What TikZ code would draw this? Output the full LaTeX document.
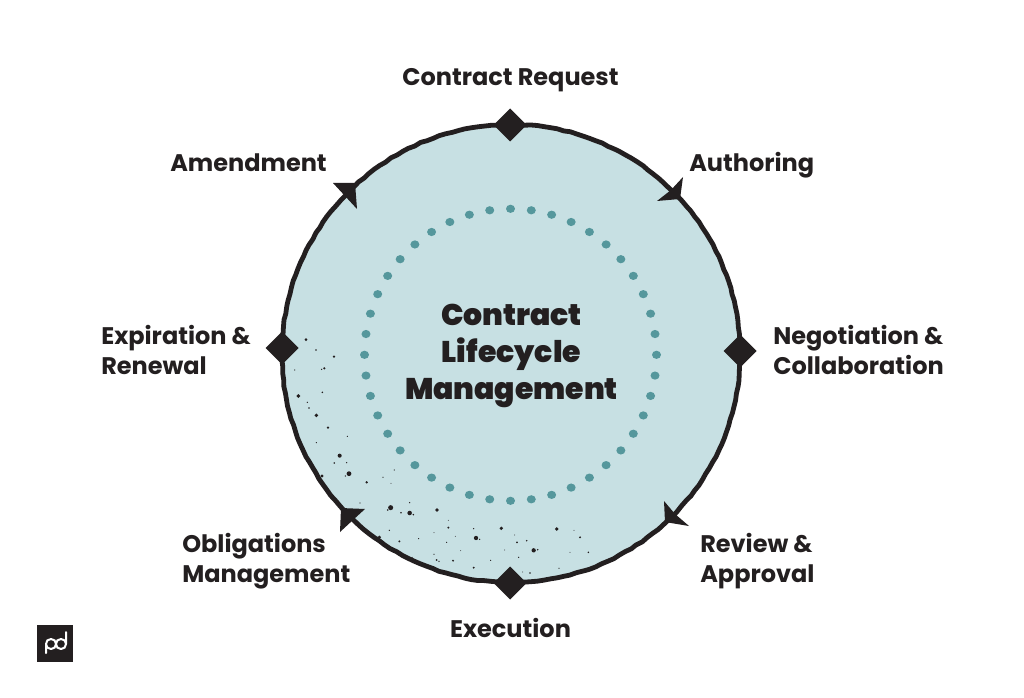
\documentclass[tikz,border=0pt]{standalone}
\usepackage{fontspec}
\usetikzlibrary{decorations.pathmorphing}
\setmainfont{Poppins}[BoldFont={Poppins Bold}]
\newfontfamily\heavyfont{Poppins Black}
\definecolor{disc}{HTML}{C7E0E3}
\definecolor{ink}{HTML}{231F20}
\definecolor{teal}{HTML}{55979C}
\tikzset{
  lab/.style={font=\bfseries\fontsize{18pt}{22.5pt}\selectfont,text=ink,inner sep=0pt,align=left},
  titlelab/.style={font=\heavyfont\fontsize{22.4pt}{27.75pt}\selectfont,text=ink,inner sep=0pt,align=center},
  mark diamond/.style={fill=ink},
  barb/.style={fill=ink,line join=round},
}
\pgfmathsetseed{7}
\begin{document}
\begin{tikzpicture}[x=0.75pt,y=-0.75pt]
\useasboundingbox (0,0) rectangle (1024,698);
\fill[white] (0,0) rectangle (1024,698);
% disc
\draw[fill=disc,draw=ink,line width=3.6pt,line join=round,decorate,decoration={random steps,segment length=5,amplitude=.35}] (511,353.5) circle[radius=229];
% inner dotted ring
\foreach \i in {0,...,43}{
  \fill[teal] ({510.5+146*cos(\i*360/44)},{354.8+146*sin(\i*360/44)}) circle[x radius=4.5,y radius=4.1];
}
% speckles (crop coords of lower-left area)
\foreach \x/\y/\r in {
108/59/1.2,138/90/.7,192/110/1.1,163/145/1,155/148/.6,74/150/.5,157/217/.7,85/228/1.6,112/247/.6,117/264/.8,139/286/1.6,174/323/1.1,232/349/.5,139/368/.5,
209/407/1.7,193/429/.7,230/428/.6,237/461/2,226/468/.6,290/487/1.1,156/468/1.3,373/450/.5,339/472/.5,363/490/.4,362/563/2.1,353/570/.7,393/578/.7,419/579/1.9,430/584/.7,419/548/.6,501/570/1.6,270/549/.5,
535/623/.9,611/626/.6,694/625/1.5,618/654/1.8,629/658/.6,535/601/.4,492/638/.4,556/649/.4,741/667/.8,770/662/.7,734/645/.4,860/627/1.6,912/631/.4,930/652/.9,791/691/1.8,803/689/.7,955/697/.7,900/697/.4,
328/652/1.5,358/631/.6,388/664/.9,446/656/.5,530/667/.5,572/692/.4,492/703/.5,500/720/.8,507/724/.6,549/722/.9,746/712/.6,704/690/.4,662/721/.5,611/743/.9,758/756/.4,780/759/.8,867/745/.5,427/712/.4}{
  \fill[ink] ({270+\x/3},{320+\y/3}) circle[radius=1.2*\r];
}
% diamonds
\coordinate (dn) at (510,125);
\coordinate (de) at (740,351);
\coordinate (ds) at (510,583);
\coordinate (dw) at (282,348);
\foreach \c in {dn,de,ds,dw}{
  \fill[mark diamond] (\c) ++(-16.5,0) -- ++(16.5,-16.5) -- ++(16.5,16.5) -- ++(-16.5,16.5) -- cycle;
}
% arrowheads
\fill[barb] (683,177) -- (680,199) -- (657,201) -- (671,190) -- cycle;
\fill[barb] (664,501) -- (665,522) -- (689,526) -- (675,514) -- cycle;
\fill[barb] (365,509) -- (341,508) -- (340,532) -- (353,520) -- cycle;
\fill[barb] (333,183) -- (355,183) -- (357,209) -- (345,196) -- cycle;
% labels
\node[lab,anchor=center] (request) at (510.5,80) {Contract Request};
\node[lab,anchor=west] (authoring) at (689,165) {Authoring};
\node[lab,anchor=east] (amendment) at (327,162.5) {Amendment};
\node[lab,anchor=west] (negotiation) at (773,350) {Negotiation \&\\Collaboration};
\node[lab,anchor=west] (expiration) at (101,350) {Expiration \&\\Renewal};
\node[lab,anchor=west] (review) at (700,561.5) {Review \&\\Approval};
\node[lab,anchor=west] (obligations) at (182,561.5) {Obligations\\Management};
\node[lab,anchor=center] (execution) at (510.5,628) {Execution};
\node[titlelab] (title) at (511.5,356) {Contract\\Lifecycle\\Management};
% logo
\fill[ink] (36.5,625) rectangle (73,661.5);
\draw[white,line width=1.5pt,line cap=round,line join=round]
  (46,653) -- (46,644) .. controls (46,641) and (48,639) .. (51,639)
  .. controls (54,639) and (56,641) .. (56,644) .. controls (56,647) and (58,649) .. (61,649)
  .. controls (64,649) and (66,647) .. (66,644) -- (66,632)
  (66,644) .. controls (66,641) and (64,639) .. (61,639)
  .. controls (58,639) and (56,641) .. (56,644) .. controls (56,647) and (54,649) .. (51,649)
  .. controls (48,649) and (46,647) .. (46,644);
\end{tikzpicture}
\end{document}
